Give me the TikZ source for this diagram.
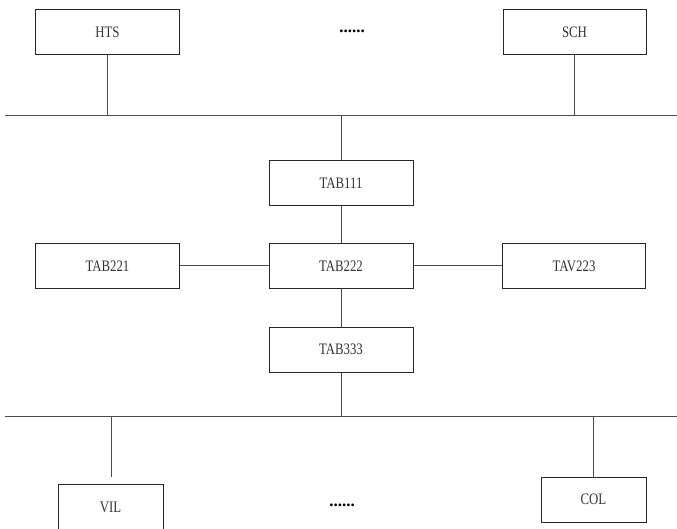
\documentclass[tikz,border=0pt]{standalone}
\usepackage{fontspec}
\setmainfont{Liberation Serif}
\newfontfamily\boxfont[FakeStretch=0.8]{Liberation Serif}
\begin{document}
\begin{tikzpicture}[x=1pt,y=-1pt,
  box/.style={draw=black!85, line width=1pt, minimum width=144pt, minimum height=45pt, inner sep=0pt, font=\boxfont\fontsize{16}{18}\selectfont, text=black!80},
  wire/.style={draw=black!70, line width=1pt},
  dots/.style={font=\fontsize{17}{18}\selectfont\bfseries, inner sep=0pt}]
\useasboundingbox (0,0) rectangle (677,529);
\clip (0,0) rectangle (677,529);
% top row
\node[box] (HTS) at (107.5,32.5) {HTS};
\node[box, minimum width=143pt] (SCH) at (574.5,32.5) {SCH};
\node[dots] (d1) at (352,31) {......};
% bus lines
\coordinate (b1L) at (5,116);
\coordinate (b1R) at (677,116);
\coordinate (b2L) at (5,416);
\coordinate (b2R) at (677,416);
\draw[wire] (b1L) -- (b1R);
\draw[wire] (b2L) -- (b2R);
% middle
\node[box] (T111) at (341,183.5) {TAB111};
\node[box] (T222) at (341,266) {TAB222};
\node[box] (T221) at (107.5,266) {TAB221};
\node[box, minimum width=143pt] (T223) at (574,266) {TAV223};
\node[box] (T333) at (341,349.5) {TAB333};
% bottom
\node[box, minimum width=105pt, minimum height=47pt] (VIL) at (110.5,507.5) {VIL};
\node[box, minimum width=105pt] (COL) at (593.5,499.5) {COL};
\node[dots] (d2) at (342,505) {......};
\coordinate (vilend) at (111,477);
% connectors
\draw[wire] (HTS.south) -- (HTS.south |- b1L);
\draw[wire] (SCH.south) -- (SCH.south |- b1L);
\draw[wire] (T111.north) -- (T111.north |- b1L);
\draw[wire] (T111) -- (T222);
\draw[wire] (T221) -- (T222);
\draw[wire] (T222) -- (T223);
\draw[wire] (T222) -- (T333);
\draw[wire] (T333.south) -- (T333.south |- b2L);
\draw[wire] (vilend |- b2L) -- (vilend);
\draw[wire] (COL.north) -- (COL.north |- b2L);
\end{tikzpicture}
\end{document}
